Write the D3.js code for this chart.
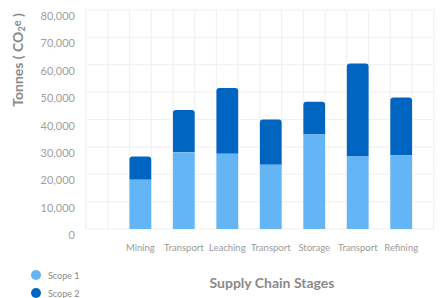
<!DOCTYPE html>
<html>
<head>
<meta charset="utf-8">
<script src="https://cdn.jsdelivr.net/npm/d3@7"></script>
<style>
  body { margin: 0; background: #fff; }
  text { font-family: Lato, "Open Sans", sans-serif; }
</style>
</head>
<body>
<div id="chart"></div>
<script>
// data
var stages = ["Mining", "Transport", "Leaching", "Transport", "Storage", "Transport", "Refining"];
var scope1 = [18000, 28000, 27500, 23500, 34500, 26500, 27000];
var scope2 = [8500, 15500, 24000, 16500, 12000, 34000, 21000];
var yTicks = [0, 10000, 20000, 30000, 40000, 50000, 60000, 70000, 80000];
var legendLabels = ["Scope 1", "Scope 2"];

var colors = ["#64b5f6", "#0064c1"];
var width = 440, height = 298;
var plotLeft = 86, plotRight = 433.8, plotTop = 10, plotBottom = 229;

var svg = d3.select("#chart").append("svg")
  .attr("width", width)
  .attr("height", height);

var y = d3.scaleLinear().domain([0, 80000]).range([plotBottom, plotTop]);

// grid behind the bars
var colStep = (plotRight - plotLeft) / 16;
var grid = svg.append("g");
grid.selectAll(".hline")
  .data(yTicks)
  .enter().append("line")
  .attr("x1", plotLeft).attr("x2", plotRight)
  .attr("y1", d => y(d)).attr("y2", d => y(d))
  .style("stroke", "#f1f1f1").style("stroke-width", 1.2);
grid.selectAll(".vline")
  .data(d3.range(17))
  .enter().append("line")
  .attr("x1", d => plotLeft + d * colStep).attr("x2", d => plotLeft + d * colStep)
  .attr("y1", plotTop).attr("y2", plotBottom)
  .style("stroke", "#f1f1f1").style("stroke-width", 1.2);

// x band
var x = d3.scaleBand()
  .domain(d3.range(stages.length))
  .range([plotLeft + colStep, plotRight])
  .paddingInner(0.5)
  .paddingOuter(0.5);

var rows = stages.map((s, i) => ({ i: i, stage: s, s1: scope1[i], s2: scope2[i] }));

// scope 2 on top with rounded top corners
function topRounded(x0, y0, w, h, r) {
  return "M" + x0 + "," + (y0 + h) +
    "V" + (y0 + r) +
    "Q" + x0 + "," + y0 + " " + (x0 + r) + "," + y0 +
    "H" + (x0 + w - r) +
    "Q" + (x0 + w) + "," + y0 + " " + (x0 + w) + "," + (y0 + r) +
    "V" + (y0 + h) + "Z";
}

svg.append("g").selectAll("path")
  .data(rows)
  .enter().append("path")
  .attr("d", d => {
    var yt = y(d.s1 + d.s2), yb = y(d.s1);
    return topRounded(x(d.i), yt, x.bandwidth(), yb - yt, 3);
  })
  .style("fill", colors[1]);

svg.append("g").selectAll("rect")
  .data(rows)
  .enter().append("rect")
  .attr("x", d => x(d.i))
  .attr("y", d => y(d.s1))
  .attr("width", x.bandwidth())
  .attr("height", d => y(0) - y(d.s1))
  .style("fill", colors[0]);

// y tick labels (sit a little under their grid line)
svg.append("g").selectAll("text")
  .data(yTicks)
  .enter().append("text")
  .attr("x", 75)
  .attr("y", d => y(d) + 10)
  .attr("text-anchor", "end")
  .style("font-size", "11px")
  .style("fill", "#a0a0a0")
  .text(d => d3.format(",")(d));

// x labels
svg.append("g").selectAll("text")
  .data(rows)
  .enter().append("text")
  .attr("x", d => x(d.i) + x.bandwidth() / 2)
  .attr("y", 251)
  .attr("text-anchor", "middle")
  .style("font-size", "9.5px")
  .style("fill", "#9a9a9a")
  .text(d => d.stage);

// axis titles
svg.append("text")
  .attr("x", 272)
  .attr("y", 288)
  .attr("text-anchor", "middle")
  .style("font-size", "14px")
  .style("font-weight", "bold")
  .style("fill", "#8a8a8a")
  .text("Supply Chain Stages");

var yTitle = svg.append("text")
  .attr("transform", "translate(23,60) rotate(-90)")
  .attr("text-anchor", "middle")
  .style("font-size", "14px")
  .style("font-weight", "bold")
  .style("fill", "#8a8a8a");
yTitle.append("tspan").text("Tonnes ( CO");
yTitle.append("tspan").attr("dy", 2).style("font-size", "9px").text("2");
yTitle.append("tspan").attr("dy", -4).style("font-size", "11px").text("e");
yTitle.append("tspan").attr("dy", 2).text(" )");

// legend
var legend = svg.append("g").selectAll("g")
  .data(legendLabels)
  .enter().append("g")
  .attr("transform", (d, i) => "translate(36," + (275 + i * 18) + ")");
legend.append("circle")
  .attr("r", 5)
  .style("fill", (d, i) => colors[i]);
legend.append("text")
  .attr("x", 12)
  .attr("y", 3.5)
  .style("font-size", "9px")
  .style("fill", "#8a8a8a")
  .text(d => d);
</script>
</body>
</html>
